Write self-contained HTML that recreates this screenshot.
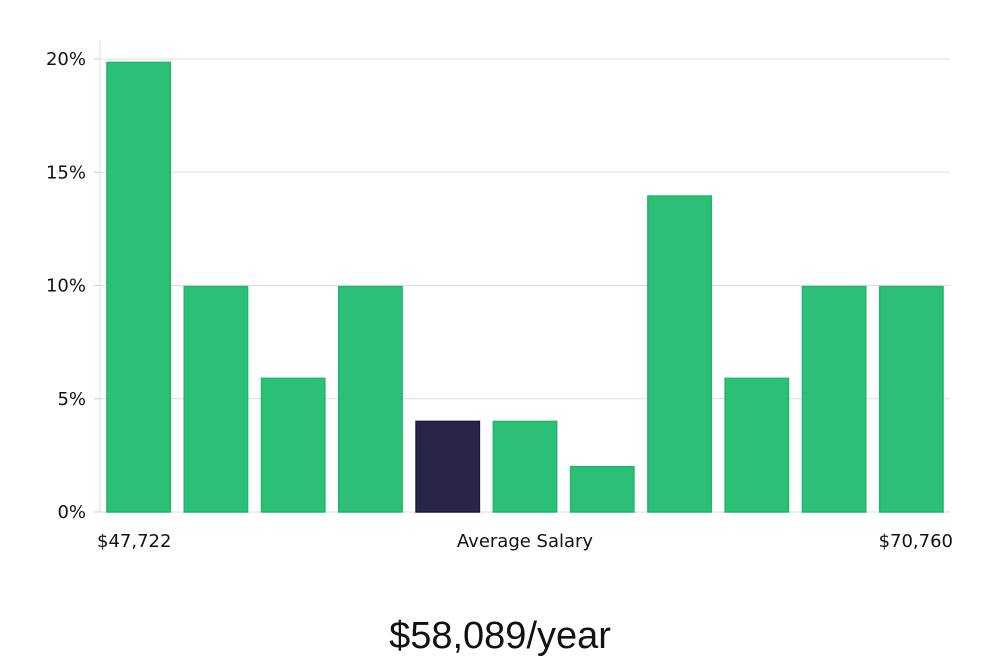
<!DOCTYPE html>
<html><head><meta charset="utf-8"><style>
body{margin:0;background:#fff;}
svg{display:block;}
text{font-family:"DejaVu Sans","Liberation Sans",sans-serif;fill:#111;}
</style></head><body>
<svg id="chart" width="1000" height="660" viewBox="0 0 1000 660" xmlns="http://www.w3.org/2000/svg">
<g id="grid"></g>
<g id="bars"></g>
<g id="yticks"></g>
<line x1="100" y1="40" x2="100" y2="512" stroke="#ddd" stroke-width="1"/>
<text x="97" y="547" font-size="18">$47,722</text>
<text x="525" y="547" font-size="18" text-anchor="middle">Average Salary</text>
<text x="953" y="547" font-size="18" text-anchor="end">$70,760</text>
<text x="500" y="648" font-size="38" text-anchor="middle" style="font-family:'Liberation Sans',sans-serif;font-weight:300" fill="#111">$58,089/year</text>
</svg>
<script>
const categories=["b1","b2","b3","b4","b5","b6","b7","b8","b9","b10","b11"];
const values=[19.85,9.95,5.9,9.95,4,4,2,13.95,5.9,9.95,9.95];
const highlight=[false,false,false,false,true,false,false,false,false,false,false];
const yTicks=[0,5,10,15,20];
const yTickLabels=["0%","5%","10%","15%","20%"];
const NS="http://www.w3.org/2000/svg";
const x0=100,x1=950,yTop=59,yBot=512,yMax=20;
function y(v){return yBot-(v/yMax)*(yBot-yTop);}
const band=(x1-x0)/categories.length;
function xb(i){return x0+i*band;}
const grid=document.getElementById('grid'),yt=document.getElementById('yticks'),bars=document.getElementById('bars');
yTicks.forEach((t,i)=>{
 const l=document.createElementNS(NS,'line');
 
 
 l.setAttribute('x1',x0);l.setAttribute('x2',x1);l.setAttribute('y1',y(t));l.setAttribute('y2',y(t));
 l.setAttribute('stroke','#ddd');grid.appendChild(l);
 const tk=document.createElementNS(NS,'line');
 
 
 tk.setAttribute('x1',x0-6);tk.setAttribute('x2',x0);tk.setAttribute('y1',y(t));tk.setAttribute('y2',y(t));
 tk.setAttribute('stroke','#ccc');yt.appendChild(tk);
 const tx=document.createElementNS(NS,'text');
 
 
 tx.setAttribute('x',x0-14);tx.setAttribute('y',y(t)+6);tx.setAttribute('text-anchor','end');tx.setAttribute('font-size','18');
 tx.textContent=yTickLabels[i];yt.appendChild(tx);
});
values.forEach((v,i)=>{
 const r=document.createElementNS(NS,'rect');
 
 
 const w=band*0.82;
 r.setAttribute('x',xb(i)+(band-w)/2);r.setAttribute('width',w);
 r.setAttribute('y',y(v));r.setAttribute('height',yBot-y(v));
 r.setAttribute('fill',highlight[i]?'#29244a':'#2bbf77');
 r.setAttribute('stroke',highlight[i]?'#1c1838':'#22b56c');r.setAttribute('stroke-width','1.5');
 bars.appendChild(r);
});
</script>
</body></html>
